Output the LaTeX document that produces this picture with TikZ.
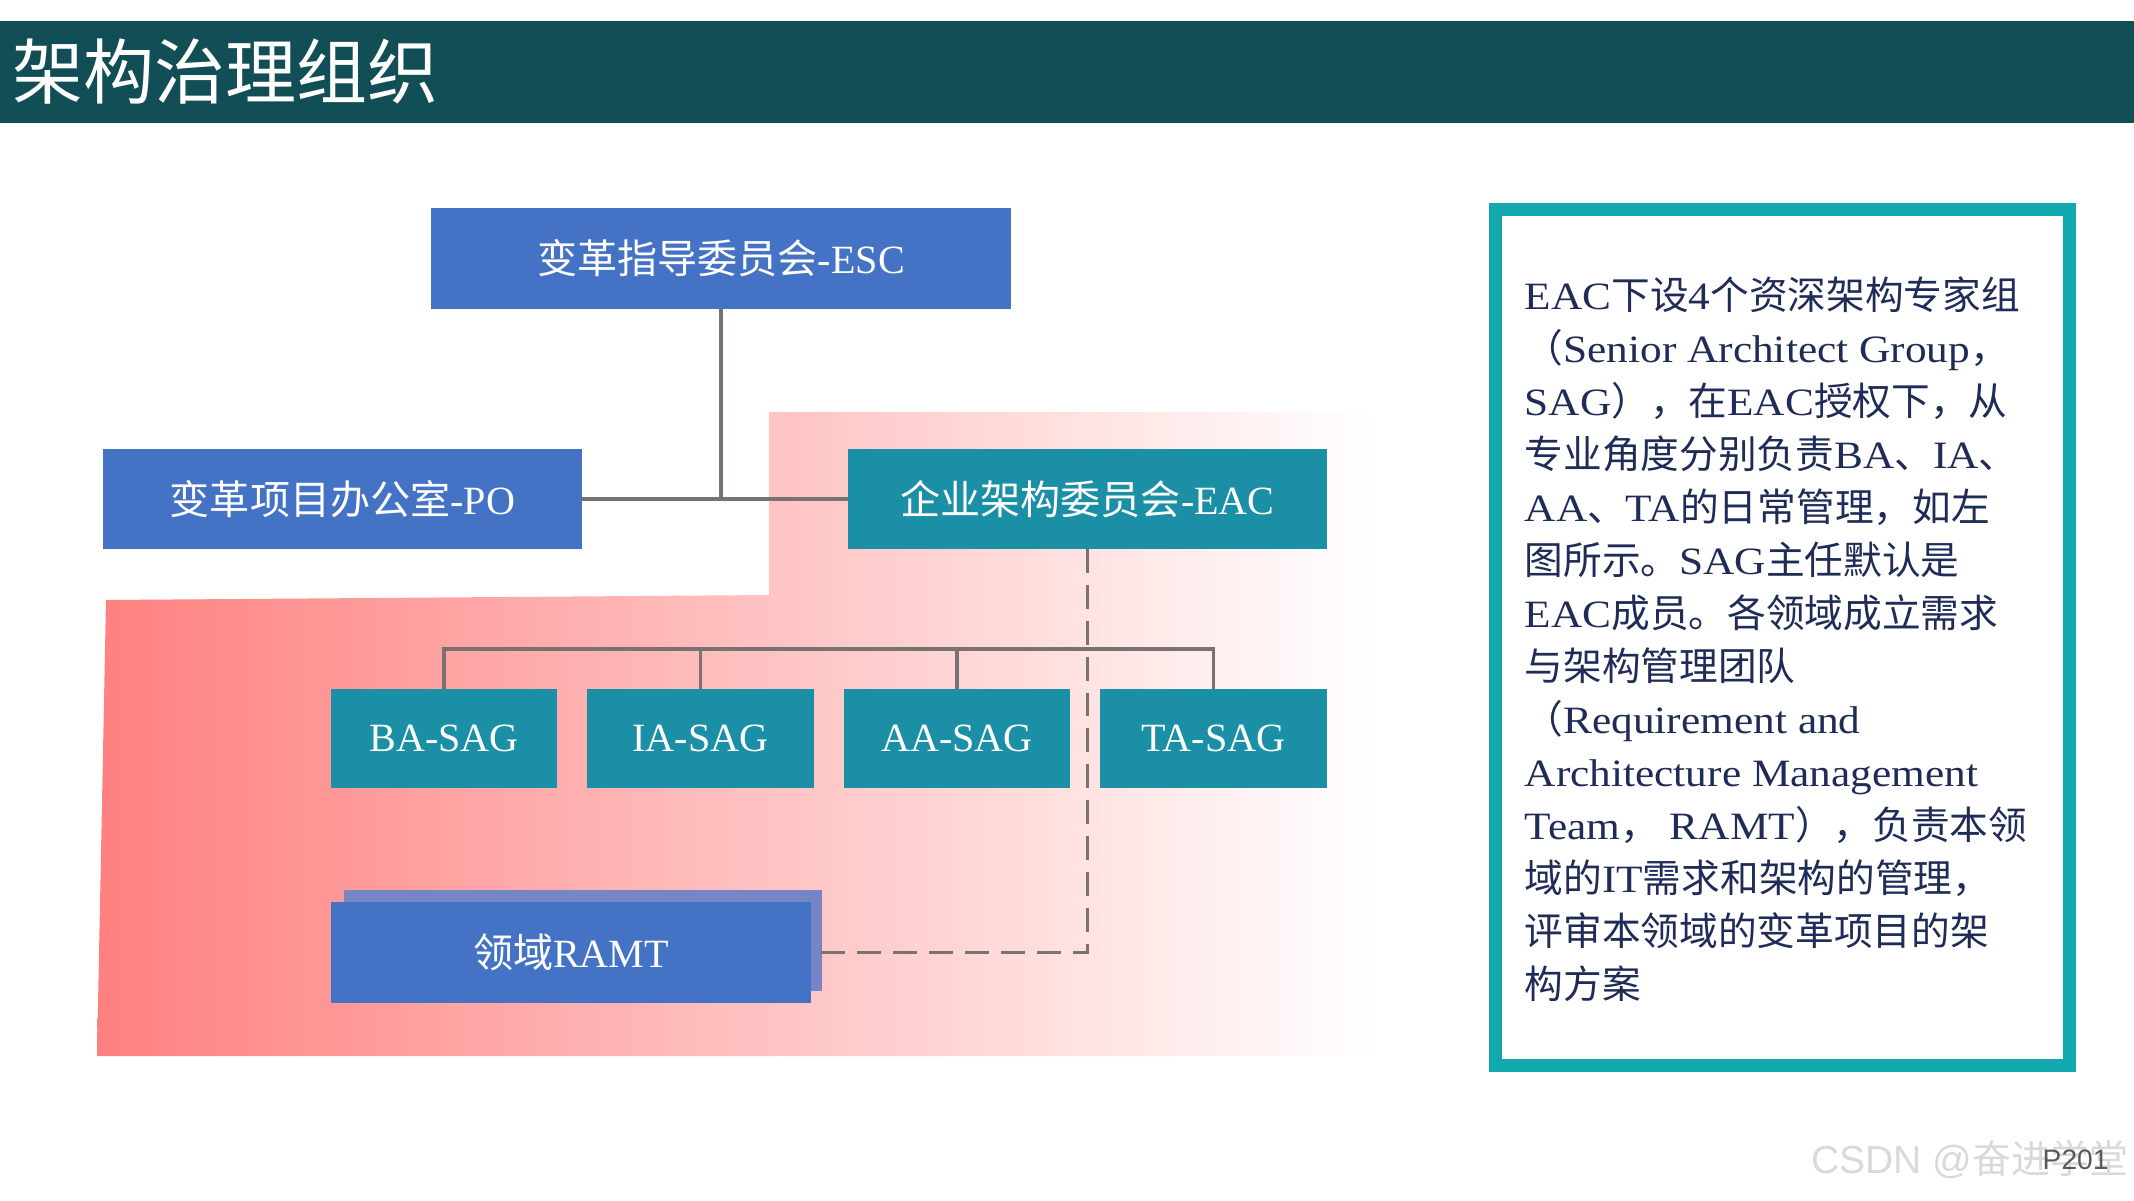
\documentclass[tikz,border=0pt]{standalone}
\usepackage{fontspec}
\setmainfont{Liberation Serif}
\setsansfont{Liberation Sans}
\newfontfamily\cjkfont{Noto Sans CJK SC}
\newfontfamily\widelatin[FakeStretch=1.12]{Liberation Serif}
% switch to the CJK font for Chinese characters, back to Latin otherwise
\XeTeXinterchartokenstate=1
\newXeTeXintercharclass\cjkclass
\makeatletter
\def\setcharrange#1#2#3{\count@=#1\relax
  \loop\XeTeXcharclass\count@=#3\relax
  \ifnum\count@<#2\relax\advance\count@ by 1\repeat}
\setcharrange{"0020}{"2FFF}{0}
\setcharrange{"3000}{"303F}{\cjkclass}
\setcharrange{"4E00}{"9FFF}{\cjkclass}
\setcharrange{"FF00}{"FFEF}{\cjkclass}
\makeatother
\newcommand{\latinfont}{\rmfamily}
\XeTeXinterchartoks 0 \cjkclass = {\cjkfont}
\XeTeXinterchartoks 4095 \cjkclass = {\cjkfont}
\XeTeXinterchartoks \cjkclass 0 = {\latinfont}
\XeTeXinterchartoks \cjkclass 4095 = {\latinfont}
\usepackage{tikz}
\definecolor{barteal}{HTML}{124E56}
\definecolor{boxblue}{HTML}{4472C4}
\definecolor{boxteal}{HTML}{1B8FA5}
\definecolor{shadowblue}{HTML}{7585C5}
\definecolor{linegray}{HTML}{7A7171}
\definecolor{pinkleft}{HTML}{FF8080}
\definecolor{frameteal}{HTML}{12A9AE}
\definecolor{infotext}{HTML}{1F2C57}
\definecolor{pagegray}{HTML}{595959}
\newcommand{\boxfont}{\fontsize{11.4pt}{13pt}\selectfont}
\newcommand{\infofont}{\renewcommand{\latinfont}{\widelatin}\widelatin\fontsize{11pt}{15pt}\selectfont}
\tikzset{
  bluebox/.style={fill=boxblue, text=white, minimum width=4.79cm, minimum height=1cm, inner sep=0pt, outer sep=0pt, font=\boxfont},
  tealbox/.style={bluebox, fill=boxteal},
  sagbox/.style={tealbox, minimum width=2.26cm, minimum height=0.99cm},
  link/.style={draw=linegray, line width=1pt},
  dashlink/.style={link, dash pattern=on 6.8pt off 3.4pt},
  titletext/.style={text=white, inner sep=0pt, font=\fontsize{20.2pt}{24pt}\selectfont},
  infoframe/.style={draw=frameteal, line width=0.13cm, minimum width=5.74cm, minimum height=8.56cm, inner sep=0pt},
  infoline/.style={anchor=base west, inner sep=0pt, text=infotext, font=\infofont},
  watermarktext/.style={text=gray!30, inner sep=0pt, font=\sffamily\fontsize{11.1pt}{13pt}\selectfont},
  pagenum/.style={text=pagegray, inner sep=0pt, anchor=west, font=\sffamily\fontsize{8pt}{9pt}\selectfont}
}

\begin{document}
\begin{tikzpicture}[x=0.01cm, y=-0.01cm]
\useasboundingbox (0,0) rectangle (2134,1200);
% header
\fill[barteal] (0,21) rectangle (2134,123);
\node[titletext, anchor=west] (title) at (12,72) {架构治理组织};
% pink backdrop
\shade[left color=pinkleft, right color=white] (769,412) -- (1375,412) -- (1375,1056) -- (97,1056) -- (106,600) -- (769,595) -- cycle;
% org chart
\node[bluebox, minimum width=5.8cm] (ESC) at (721,258.5) {变革指导委员会-ESC};
\node[bluebox] (PO) at (342.5,499) {变革项目办公室-PO};
\node[tealbox] (EAC) at (1087.5,499) {企业架构委员会-EAC};
\foreach \n/\x in {BA/444, IA/700.5, AA/957, TA/1213.5}
  \node[sagbox] (\n) at (\x,738.5) {\n-SAG};
\node[bluebox, fill=shadowblue, minimum width=4.78cm, minimum height=1.01cm] (RAMTback) at (583,940.5) {};
\node[bluebox, minimum width=4.8cm, minimum height=1.01cm] (RAMT) at (571,952.5) {领域RAMT};
\draw[link] (ESC.south) -- (ESC.south |- PO.east);
\draw[link] (PO.east) -- (EAC.west);
\coordinate (bus) at (0,649);
\draw[link] (BA.north) |- (TA.north |- bus) -- (TA.north);
\foreach \n in {IA,AA} \draw[link] (\n.north) -- (\n.north |- bus);
\draw[dashlink] (EAC.south) |- (RAMT.east);
% right panel
\node[infoframe] (infobox) at (1782.5,637.5) {};
\foreach \t [count=\i] in {{EAC下设4个资深架构专家组},
  {（Senior Architect Group，},
  {SAG），在EAC授权下，从},
  {专业角度分别负责BA、IA、},
  {AA、TA的日常管理，如左},
  {图所示。SAG主任默认是},
  {EAC成员。各领域成立需求},
  {与架构管理团队},
  {（Requirement and},
  {Architecture Management},
  {Team， RAMT），负责本领},
  {域的IT需求和架构的管理，},
  {评审本领域的变革项目的架},
  {构方案}}
  \node[infoline] (line\i) at (1524,{309+53*(\i-1)}) {\t};
% footer
\node[watermarktext] (csdn) at (1970,1160) {CSDN @奋进学堂};
\node[pagenum] (page) at (2042,1160) {P201};
\end{tikzpicture}
\end{document}
